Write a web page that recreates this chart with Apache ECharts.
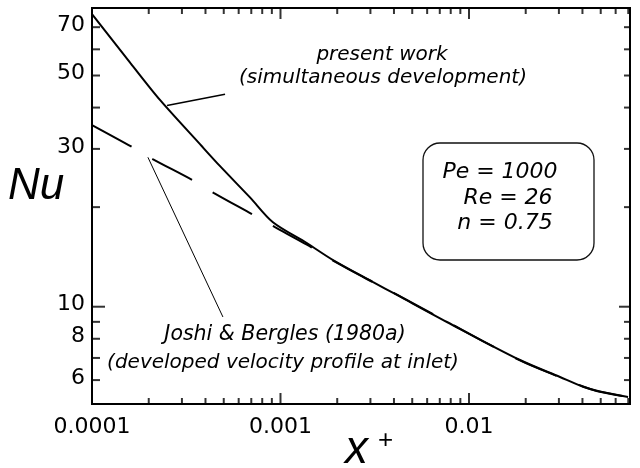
<!DOCTYPE html>
<html>
<head>
<meta charset="utf-8">
<script src="https://cdn.jsdelivr.net/npm/echarts@6/dist/echarts.min.js"></script>
<style>
  html, body { margin: 0; padding: 0; background: #fff; }
  #chart { width: 640px; height: 468px; }
</style>
</head>
<body>
<div id="chart"></div>
<script>
// Axis extents (log-log)
const X_MIN = 1e-4, X_MAX = 0.0715;
const Y_MIN = 5.08, Y_MAX = 80;

// Present work: simultaneous development of velocity and temperature
const presentX = [1.0e-4, 1.6e-4, 2.3e-4, 3.74e-4, 4.78e-4, 6.89e-4, 9.12e-4, 1.38e-3, 1.90e-3,
                  3.10e-3, 4.15e-3, 7.64e-3, 1.865e-2, 3.04e-2, 4.03e-2, 4.95e-2, 6.98e-2];
const presentY = [76.6, 54.5, 42.1, 31.0, 26.6, 21.4, 18.0, 15.57, 13.84,
                  11.87, 10.85, 8.99, 6.90, 6.13, 5.73, 5.54, 5.33];

// Joshi & Bergles (1980a): developed velocity profile at inlet
const joshiX = [1.0e-4, 1.63e-4, 2.11e-4, 3.43e-4, 4.44e-4, 7.23e-4, 9.35e-4, 1.38e-3, 1.90e-3,
                3.10e-3, 4.15e-3, 7.64e-3, 1.865e-2, 3.04e-2, 4.03e-2, 4.95e-2, 6.98e-2];
const joshiY = [35.4, 30.4, 27.9, 24.1, 22.05, 18.9, 17.4, 15.4, 13.78,
                11.85, 10.87, 9.01, 6.88, 6.12, 5.74, 5.53, 5.33];

// Leader lines from the annotations to the curves
const presentLeaderX = [2.50e-4, 5.08e-4];
const presentLeaderY = [40.6, 43.9];
const joshiLeaderX = [1.98e-4, 4.95e-4];
const joshiLeaderY = [28.3, 9.31];

// Tick labels and tick marks
const xLabelValues = [1e-4, 1e-3, 1e-2];
const xLabelTexts = ['0.0001', '0.001', '0.01'];
const xMajorTicks = [1e-3, 1e-2];
const xMinorTicks = [2e-4, 3e-4, 4e-4, 5e-4, 6e-4, 7e-4, 8e-4, 9e-4,
                     2e-3, 3e-3, 4e-3, 5e-3, 6e-3, 7e-3, 8e-3, 9e-3,
                     2e-2, 3e-2, 4e-2, 5e-2, 6e-2, 7e-2];
const yLabelValues = [70, 50, 30, 10, 8, 6];
const yLabelTexts = ['70', '50', '30', '10', '8', '6'];
const yMajorTicks = [10];
const yMinorTicks = [6, 7, 8, 9, 20, 30, 40, 50, 60, 70];

const zip = (xs, ys) => xs.map((x, i) => [x, ys[i]]);

function tickSeries(points, size, offset) {
  return {
    type: 'scatter', data: points, symbol: 'rect', symbolSize: size, symbolOffset: offset,
    itemStyle: { color: '#000' }, silent: true, clip: false, z: 6
  };
}

const TEXT_FONT = 'DejaVu Sans';

const chart = echarts.init(document.getElementById('chart'), null, { renderer: 'canvas' });

chart.setOption({
  animation: false,
  backgroundColor: '#fff',
  grid: { left: 92, right: 10, top: 8, bottom: 64, show: true, borderColor: '#000', borderWidth: 2, backgroundColor: 'transparent' },
  xAxis: {
    type: 'log', logBase: 10, min: X_MIN, max: X_MAX,
    axisLine: { lineStyle: { color: '#000', width: 2 } },
    axisTick: { show: false },
    splitLine: { show: false },
    axisLabel: {
      color: '#000', fontSize: 22, fontFamily: TEXT_FONT, margin: 12,
      showMaxLabel: false,
      formatter: v => {
        const i = xLabelValues.findIndex(t => Math.abs(Math.log10(t) - Math.log10(v)) < 1e-6);
        return i < 0 ? '' : xLabelTexts[i];
      }
    }
  },
  yAxis: {
    type: 'log', logBase: 10, min: Y_MIN, max: Y_MAX,
    axisLine: { lineStyle: { color: '#000', width: 2 } },
    axisTick: { show: false },
    axisLabel: { show: false },
    splitLine: { show: false }
  },
  series: [
    {
      name: 'present work', type: 'line', data: zip(presentX, presentY),
      showSymbol: false, smooth: 0.3, lineStyle: { color: '#000', width: 2 }, z: 3
    },
    {
      name: 'Joshi & Bergles (1980a)', type: 'line', data: zip(joshiX, joshiY),
      showSymbol: false, smooth: 0.3, lineStyle: { color: '#000', width: 2, type: [45, 24] }, z: 3
    },
    {
      type: 'line', data: zip(presentLeaderX, presentLeaderY), showSymbol: false,
      lineStyle: { color: '#000', width: 1.5 }, silent: true, z: 4
    },
    {
      type: 'line', data: zip(joshiLeaderX, joshiLeaderY), showSymbol: false,
      lineStyle: { color: '#000', width: 1 }, silent: true, z: 4
    },
    // bottom axis ticks (inward)
    tickSeries(xMinorTicks.map(v => [v, Y_MIN]), [2, 6], [0, -3]),
    tickSeries(xMajorTicks.map(v => [v, Y_MIN]), [2, 11], [0, -5.5]),
    // top axis ticks
    tickSeries(xMinorTicks.map(v => [v, Y_MAX]), [2, 6], [0, 3]),
    tickSeries(xMajorTicks.map(v => [v, Y_MAX]), [2, 11], [0, 5.5]),
    // left axis ticks
    tickSeries(yMinorTicks.map(v => [X_MIN, v]), [8, 2], [4, 0]),
    tickSeries(yMajorTicks.map(v => [X_MIN, v]), [13, 2], [6.5, 0]),
    // right axis ticks
    tickSeries(yMinorTicks.map(v => [X_MAX, v]), [6, 2], [-3, 0]),
    tickSeries(yMajorTicks.map(v => [X_MAX, v]), [11, 2], [-5.5, 0]),
    // y tick labels
    {
      type: 'scatter', data: yLabelValues.map(v => [X_MIN, v]), symbolSize: 0, silent: true, clip: false,
      itemStyle: { color: '#000', opacity: 1 },
      label: {
        show: true, position: 'left', distance: 7, offset: [0, -2],
        color: '#000', fontSize: 22, fontFamily: TEXT_FONT, opacity: 1,
        formatter: p => yLabelTexts[p.dataIndex]
      }
    }
  ],
  graphic: [
    { type: 'text', left: 8, top: 165, style: { text: 'Nu', font: 'italic 44px "Liberation Sans"', fill: '#000' } },
    { type: 'text', left: 345, top: 427, style: { text: 'x', font: 'italic 46px "Liberation Sans"', fill: '#000' } },
    { type: 'text', left: 378, top: 428, style: { text: '+', font: '26px "Liberation Sans"', fill: '#000' } },
    { type: 'text', x: 382, y: 55, style: { text: 'present work', font: 'italic 20px "DejaVu Sans"', fill: '#000', align: 'center', verticalAlign: 'middle' } },
    { type: 'text', x: 383, y: 78, style: { text: '(simultaneous development)', font: 'italic 20px "DejaVu Sans"', fill: '#000', align: 'center', verticalAlign: 'middle' } },
    { type: 'text', x: 285, y: 335, style: { text: 'Joshi & Bergles (1980a)', font: 'italic 20.5px "DejaVu Sans"', fill: '#000', align: 'center', verticalAlign: 'middle' } },
    { type: 'text', x: 283, y: 363, style: { text: '(developed velocity profile at inlet)', font: 'italic 20px "DejaVu Sans"', fill: '#000', align: 'center', verticalAlign: 'middle' } },
    { type: 'rect', shape: { x: 423, y: 143, width: 171, height: 117, r: 17 }, style: { fill: 'none', stroke: '#111', lineWidth: 1.3 } },
    { type: 'text', x: 500, y: 172, style: { text: 'Pe = 1000', font: 'italic 22px "DejaVu Sans"', fill: '#000', align: 'center', verticalAlign: 'middle' } },
    { type: 'text', x: 508, y: 198, style: { text: 'Re = 26', font: 'italic 22px "DejaVu Sans"', fill: '#000', align: 'center', verticalAlign: 'middle' } },
    { type: 'text', x: 505, y: 223, style: { text: 'n = 0.75', font: 'italic 22px "DejaVu Sans"', fill: '#000', align: 'center', verticalAlign: 'middle' } }
  ]
});
</script>
</body>
</html>
